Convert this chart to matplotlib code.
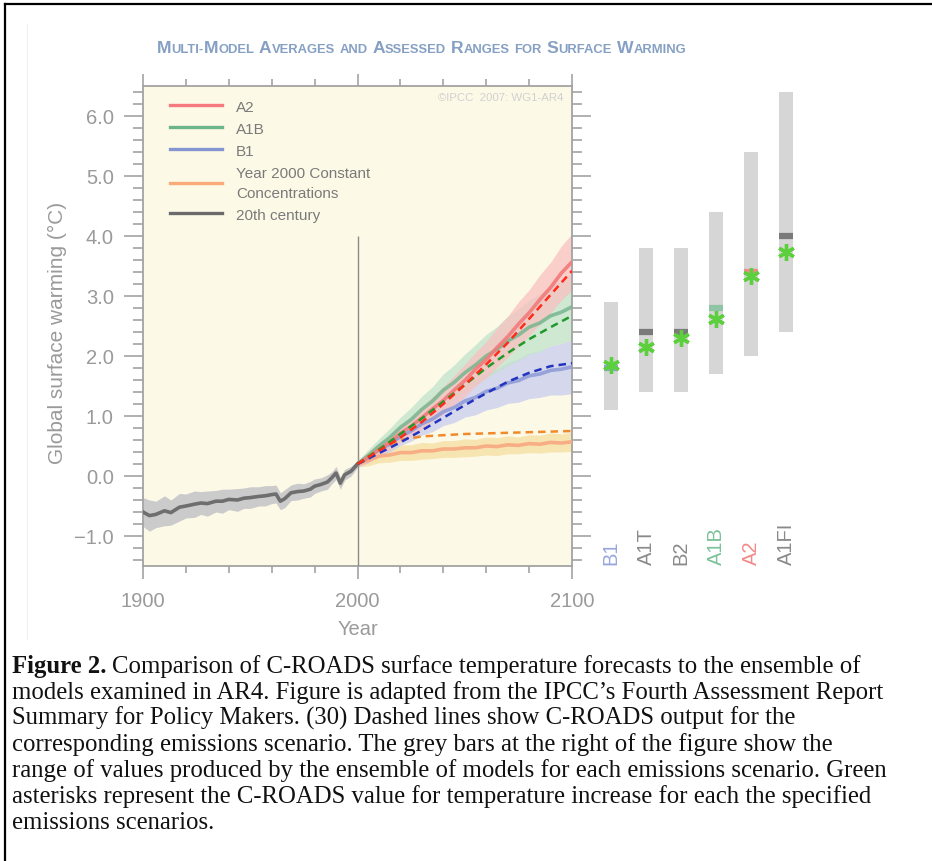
import numpy as np
import matplotlib
matplotlib.use("Agg")
import matplotlib.pyplot as plt
from matplotlib.lines import Line2D
from matplotlib.ticker import MultipleLocator, FuncFormatter

plt.rcParams['font.family'] = ['Liberation Sans', 'DejaVu Sans']

# 20th century multi-model mean and spread
hist_years = [1900, 1903, 1906, 1910, 1913, 1917, 1920, 1924, 1927, 1930, 1934, 1937,
              1940, 1944, 1947, 1950, 1954, 1957, 1960, 1962, 1964, 1966, 1969, 1972,
              1975, 1978, 1980, 1983, 1986, 1988, 1990, 1992, 1994, 1997, 2000]
hist_mean = [-0.60, -0.66, -0.64, -0.58, -0.61, -0.52, -0.50, -0.47, -0.45, -0.46, -0.42, -0.42,
             -0.39, -0.40, -0.37, -0.36, -0.34, -0.33, -0.31, -0.30, -0.42, -0.38, -0.28, -0.26,
             -0.25, -0.22, -0.17, -0.14, -0.10, -0.03, 0.05, -0.12, 0.02, 0.08, 0.20]
hist_spread = [0.24, 0.26, 0.22, 0.25, 0.21, 0.23, 0.20, 0.22, 0.19, 0.21, 0.18, 0.20,
               0.17, 0.19, 0.17, 0.18, 0.16, 0.17, 0.15, 0.15, 0.14, 0.15, 0.13, 0.14,
               0.12, 0.13, 0.12, 0.11, 0.12, 0.10, 0.11, 0.10, 0.09, 0.08, 0.06]

# 21st century multi-model means and spreads (5-year steps)
proj_years = [2000, 2005, 2010, 2015, 2020, 2025, 2030, 2035, 2040, 2045, 2050,
              2055, 2060, 2065, 2070, 2075, 2080, 2085, 2090, 2095, 2100]
a2_mean = [0.20, 0.31, 0.44, 0.56, 0.71, 0.83, 0.97, 1.12, 1.26, 1.43, 1.59,
           1.78, 1.94, 2.14, 2.32, 2.53, 2.72, 2.94, 3.14, 3.38, 3.57]
a2_spread = [0.05, 0.09, 0.11, 0.12, 0.15, 0.16, 0.19, 0.20, 0.23, 0.24, 0.27,
             0.28, 0.30, 0.33, 0.34, 0.37, 0.38, 0.41, 0.42, 0.45, 0.47]
a1b_mean = [0.20, 0.34, 0.50, 0.64, 0.81, 0.94, 1.11, 1.25, 1.43, 1.56, 1.72,
            1.85, 2.00, 2.11, 2.25, 2.35, 2.48, 2.55, 2.67, 2.73, 2.82]
a1b_spread = [0.05, 0.10, 0.12, 0.15, 0.17, 0.20, 0.22, 0.24, 0.27, 0.29, 0.31,
              0.34, 0.36, 0.38, 0.41, 0.43, 0.45, 0.48, 0.50, 0.52, 0.55]
b1_mean = [0.20, 0.31, 0.44, 0.53, 0.66, 0.75, 0.87, 0.95, 1.07, 1.14, 1.25,
           1.31, 1.41, 1.46, 1.55, 1.59, 1.67, 1.70, 1.76, 1.78, 1.82]
b1_spread = [0.05, 0.09, 0.11, 0.13, 0.15, 0.17, 0.19, 0.21, 0.23, 0.25, 0.27,
             0.29, 0.31, 0.32, 0.34, 0.36, 0.38, 0.39, 0.41, 0.43, 0.45]
commit_mean = [0.20, 0.26, 0.33, 0.35, 0.39, 0.39, 0.42, 0.42, 0.45, 0.45, 0.47,
               0.47, 0.50, 0.49, 0.52, 0.51, 0.54, 0.53, 0.56, 0.55, 0.57]
commit_spread = [0.05, 0.09, 0.11, 0.12, 0.13, 0.13, 0.14, 0.13, 0.14, 0.14, 0.15,
                 0.14, 0.15, 0.15, 0.15, 0.14, 0.15, 0.15, 0.16, 0.15, 0.16]

# C-ROADS output (dashed lines)
croads_years = [2000, 2010, 2020, 2030, 2040, 2050, 2060, 2070, 2080, 2090, 2100]
croads_a2 = [0.20, 0.42, 0.64, 0.90, 1.20, 1.52, 1.86, 2.22, 2.62, 3.02, 3.42]
croads_a1b = [0.20, 0.44, 0.70, 0.96, 1.24, 1.52, 1.80, 2.05, 2.28, 2.48, 2.67]
croads_b1 = [0.20, 0.38, 0.56, 0.76, 0.97, 1.18, 1.38, 1.57, 1.72, 1.83, 1.88]
croads_commit = [0.20, 0.45, 0.60, 0.66, 0.68, 0.70, 0.71, 0.72, 0.73, 0.74, 0.75]

# assessed ranges at 2090-2099
scenarios = ['B1', 'A1T', 'B2', 'A1B', 'A2', 'A1FI']
range_low = [1.1, 1.4, 1.4, 1.7, 2.0, 2.4]
range_high = [2.9, 3.8, 3.8, 4.4, 5.4, 6.4]
best_est = [1.8, 2.4, 2.4, 2.8, 3.4, 4.0]
croads_end = [1.85, 2.15, 2.30, 2.62, 3.33, 3.73]
scen_colors = ['#98a6dc', '#8a8a8a', '#8a8a8a', '#7cc29a', '#f48a8a', '#8a8a8a']
best_colors = ['#8d9fd6', '#7a7a7a', '#7a7a7a', '#8fc4a4', '#f08a8a', '#7a7a7a']

caption = [
    "Comparison of C-ROADS surface temperature forecasts to the ensemble of",
    "models examined in AR4. Figure is adapted from the IPCC\u2019s Fourth Assessment Report",
    "Summary for Policy Makers. (30) Dashed lines show C-ROADS output for the",
    "corresponding emissions scenario. The grey bars at the right of the figure show the",
    "range of values produced by the ensemble of models for each emissions scenario. Green",
    "asterisks represent the C-ROADS value for temperature increase for each the specified",
    "emissions scenarios.",
]

W, H = 932, 862
fig = plt.figure(figsize=(W / 100, H / 100), dpi=100)
fig.patch.set_facecolor('white')

y0, y1 = -1.5, 6.5
ax = fig.add_axes([143 / W, 1 - 567 / H, 429 / W, 480 / H])
ax.set_facecolor('#fdf9e7')
ax.set_xlim(1900, 2100)
ax.set_ylim(y0, y1)

hy = np.array(hist_years)
hm = np.array(hist_mean)
hs = np.array(hist_spread)
ax.fill_between(hy, hm - hs, hm + hs, color='#cbcbcb', lw=0, zorder=2)

py = np.array(proj_years)
bands = [
    (commit_mean, commit_spread, '#f5dfa0', '#f8a880'),
    (b1_mean, b1_spread, '#c8cdee', '#8f9cd6'),
    (a1b_mean, a1b_spread, '#bfe3cb', '#7db893'),
    (a2_mean, a2_spread, '#f9c0c0', '#f27a7a'),
]
for mean, spread, bc, lc in bands:
    m = np.array(mean)
    s = np.array(spread)
    ax.fill_between(py, m - s, m + s, color=bc, alpha=0.75, lw=0, zorder=2)
for mean, spread, bc, lc in bands:
    ax.plot(py, mean, color=lc, lw=2.6, alpha=0.9, zorder=3, solid_capstyle='butt')

ax.plot(hy, hm, color='#6e6e6e', lw=2.6, zorder=3)

ax.vlines(2000, y0, 4.0, color='#8c8c8c', lw=1.0, zorder=4)

dash_sets = [(croads_commit, '#f08a2a'), (croads_b1, '#2233c0'),
             (croads_a1b, '#1f9a2a'), (croads_a2, '#ff2a1a')]
for vals, c in dash_sets:
    ax.plot(croads_years, vals, color=c, lw=1.8, ls=(0, (3, 2)), zorder=5)

# axes styling
grey = '#a3a3a3'
for sp in ax.spines.values():
    sp.set_color(grey)
    sp.set_linewidth(1.3)
ax.xaxis.set_major_locator(MultipleLocator(100))
ax.xaxis.set_minor_locator(MultipleLocator(20))
ax.yaxis.set_major_locator(MultipleLocator(1))
ax.yaxis.set_minor_locator(MultipleLocator(0.2))
ax.yaxis.set_major_formatter(FuncFormatter(lambda v, p: f"{v:.1f}".replace('-', '\u2212')))
ax.tick_params(axis='both', which='both', direction='out', color=grey, width=1.2,
               top=True, right=True, labelcolor='#9a9a9a', labelsize=14.5)
ax.tick_params(axis='x', which='major', length=9, pad=9)
ax.tick_params(axis='x', which='minor', length=5)
ax.tick_params(axis='y', which='major', length=14, pad=7)
ax.tick_params(axis='y', which='minor', length=7)

ax.set_xlabel('Year', color='#9a9a9a', fontsize=14.5)
ax.xaxis.set_label_coords(0.5, -0.110)
ax.set_ylabel('Global surface warming (\u00b0C)', color='#9a9a9a', fontsize=15)
ax.yaxis.set_label_coords(-0.177, 0.488)

ax.text(0.979, 0.977, '\u00a9IPCC  2007: WG1-AR4', transform=ax.transAxes, ha='right',
        va='center', fontsize=8.2, color='#d0d0d0')

handles = [Line2D([], [], color='#f47a80', lw=2.4),
           Line2D([], [], color='#6cb58a', lw=2.4),
           Line2D([], [], color='#8595d1', lw=2.4),
           Line2D([], [], color='#f9ab7a', lw=2.4),
           Line2D([], [], color='#6b6b6b', lw=2.4)]
labels = ['A2', 'A1B', 'B1', 'Year 2000 Constant\nConcentrations', '20th century']
leg = ax.legend(handles, labels, loc='upper left', bbox_to_anchor=(0.03, 1.0),
                frameon=False, fontsize=11, labelcolor='#7a7a7a', handlelength=3.4,
                handletextpad=0.95, labelspacing=0.52)
leg.get_texts()[3].set_linespacing(1.55)

# right-hand bars
ax2 = fig.add_axes([593.5 / W, 1 - 567 / H, 210 / W, 480 / H])
ax2.set_xlim(-0.5, 5.5)
ax2.set_ylim(y0, y1)
ax2.axis('off')
xs = np.arange(len(scenarios))
lo = np.array(range_low)
hi = np.array(range_high)
ax2.bar(xs, hi - lo, bottom=lo, width=0.4, color='#d6d6d6', zorder=1)
ax2.hlines(best_est, xs - 0.2, xs + 0.2, colors=best_colors, lw=4.5, zorder=2)
ax2.plot(xs, croads_end, ls='', marker=(6, 2, 0), ms=12, mew=2.4, color='#5ccf3c', zorder=3)
for i, name in enumerate(scenarios):
    ax2.text(xs[i], -1.47, name, rotation=90, ha='center', va='bottom',
             color=scen_colors[i], fontsize=14.5)

# small-caps title
renderer = fig.canvas.get_renderer()
title_parts = [('M', 1), ('ULTI-', 0), ('M', 1), ('ODEL', 0), (' ', 0), ('A', 1), ('VERAGES', 0),
               (' ', 0), ('AND', 0), (' ', 0), ('A', 1), ('SSESSED', 0), (' ', 0), ('R', 1),
               ('ANGES', 0), (' ', 0), ('FOR', 0), (' ', 0), ('S', 1), ('URFACE', 0), (' ', 0),
               ('W', 1), ('ARMING', 0)]
tcolor = '#86a0c4'
xpix = 157
ybase = 1 - 53 / H
for txt, big in title_parts:
    if txt == ' ':
        xpix += 4.8
        continue
    t = fig.text(xpix / W, ybase, txt, fontsize=12.6 if big else 9.4, fontweight='bold',
                 color=tcolor, va='baseline', ha='left')
    xpix += t.get_window_extent(renderer).width

# caption
cap_font = ['Liberation Serif', 'DejaVu Serif']
cap_size = 17.8
line_y = [673, 699, 725, 751, 777, 803, 829]
tb = fig.text(12 / W, 1 - line_y[0] / H, 'Figure 2.', fontsize=cap_size, fontweight='bold',
              family=cap_font, va='baseline', ha='left', color='#111111')
bw = tb.get_window_extent(renderer).width
fig.text((12 + bw + 5) / W, 1 - line_y[0] / H, caption[0], fontsize=cap_size, family=cap_font,
         va='baseline', ha='left', color='#111111')
for i in range(1, len(caption)):
    fig.text(12 / W, 1 - line_y[i] / H, caption[i], fontsize=cap_size, family=cap_font,
             va='baseline', ha='left', color='#111111')

# page frame
fig.add_artist(Line2D([4.5 / W, 4.5 / W], [0, 1 - 4.5 / H], transform=fig.transFigure,
                      color='black', lw=1.6))
fig.add_artist(Line2D([4.5 / W, 1], [1 - 4.5 / H, 1 - 4.5 / H], transform=fig.transFigure,
                      color='black', lw=1.6))
fig.add_artist(Line2D([27 / W, 27 / W], [1 - 640 / H, 1 - 25 / H], transform=fig.transFigure,
                      color='#f0f0f0', lw=0.8))

fig.savefig('out.png', dpi=100)
